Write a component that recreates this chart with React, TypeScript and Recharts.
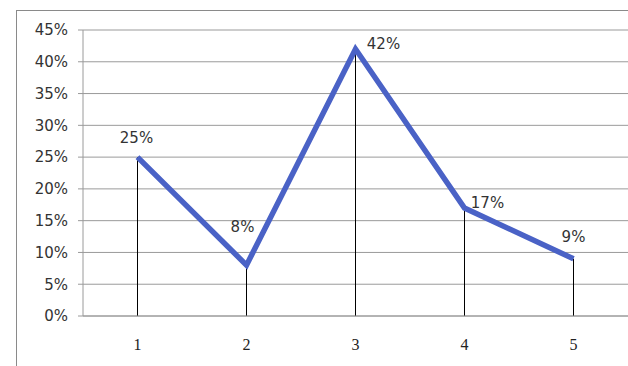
import React from 'react';
import { ComposedChart, Bar, Line, XAxis, YAxis, CartesianGrid, LabelList } from 'recharts';

const categories = ['1', '2', '3', '4', '5'];
const shares = [0.25, 0.08, 0.42, 0.17, 0.09];
const yTicks = [0, 0.05, 0.1, 0.15, 0.2, 0.25, 0.3, 0.35, 0.4, 0.45];

// label offsets relative to each point, as Excel placed them
const labelOffsets = [
    { dx: -1, dy: -19 },
    { dx: -4, dy: -38 },
    { dx: 28, dy: -5 },
    { dx: 23, dy: -5 },
    { dx: 0, dy: -22 },
];

const data = categories.map((c, i) => ({ name: c, value: shares[i] }));

const pct = (v: number) => `${Math.round(v * 100)}%`;

const gridColor = '#9a9a9a';
const lineColor = '#4a62c6';
const sansFont = '"DejaVu Sans", Verdana, sans-serif';
const serifFont = '"Liberation Serif", "Times New Roman", serif';

const PointLabel = (props: any) => {
    const { x, y, index, value } = props;
    const off = labelOffsets[index] || { dx: 0, dy: -15 };
    return (
        <text
            x={x + off.dx}
            y={y + off.dy}
            textAnchor="middle"
            dominantBaseline="central"
            fontFamily={sansFont}
            fontSize={15}
            fill="#333"
        >
            {pct(value)}
        </text>
    );
};

const App: React.FC = () => {
    return (
        <div style={{ position: 'absolute', left: 0, top: 0, width: 628, height: 366, background: '#fff', overflow: 'hidden' }}>
            <div
                style={{
                    position: 'absolute',
                    left: 16,
                    top: 10,
                    width: 700,
                    height: 400,
                    border: '1px solid #8a8a8a',
                }}
            />
            <div style={{ position: 'absolute', left: 0, top: 0 }}>
                <ComposedChart
                    width={628}
                    height={366}
                    data={data}
                    margin={{ top: 30, right: 0, bottom: 20, left: 0 }}
                >
                    <CartesianGrid horizontal vertical={false} stroke={gridColor} strokeWidth={1} />
                    <XAxis
                        dataKey="name"
                        stroke={gridColor}
                        tickLine={false}
                        tickSize={0}
                        tickMargin={23}
                        height={30}
                        tick={{ fontFamily: serifFont, fontSize: 16, fill: '#222' }}
                    />
                    <YAxis
                        width={83}
                        domain={[0, 0.45]}
                        ticks={yTicks}
                        interval={0}
                        tickFormatter={pct}
                        stroke={gridColor}
                        tickSize={5}
                        tickMargin={10}
                        tick={{ fontFamily: sansFont, fontSize: 15, fill: '#333' }}
                    />
                    <Bar dataKey="value" barSize={1} fill="#000" isAnimationActive={false} />
                    <Line
                        type="linear"
                        dataKey="value"
                        stroke={lineColor}
                        strokeWidth={5.5}
                        dot={false}
                        activeDot={false}
                        isAnimationActive={false}
                    >
                        <LabelList dataKey="value" content={<PointLabel />} />
                    </Line>
                </ComposedChart>
            </div>
        </div>
    );
};

export default App;
